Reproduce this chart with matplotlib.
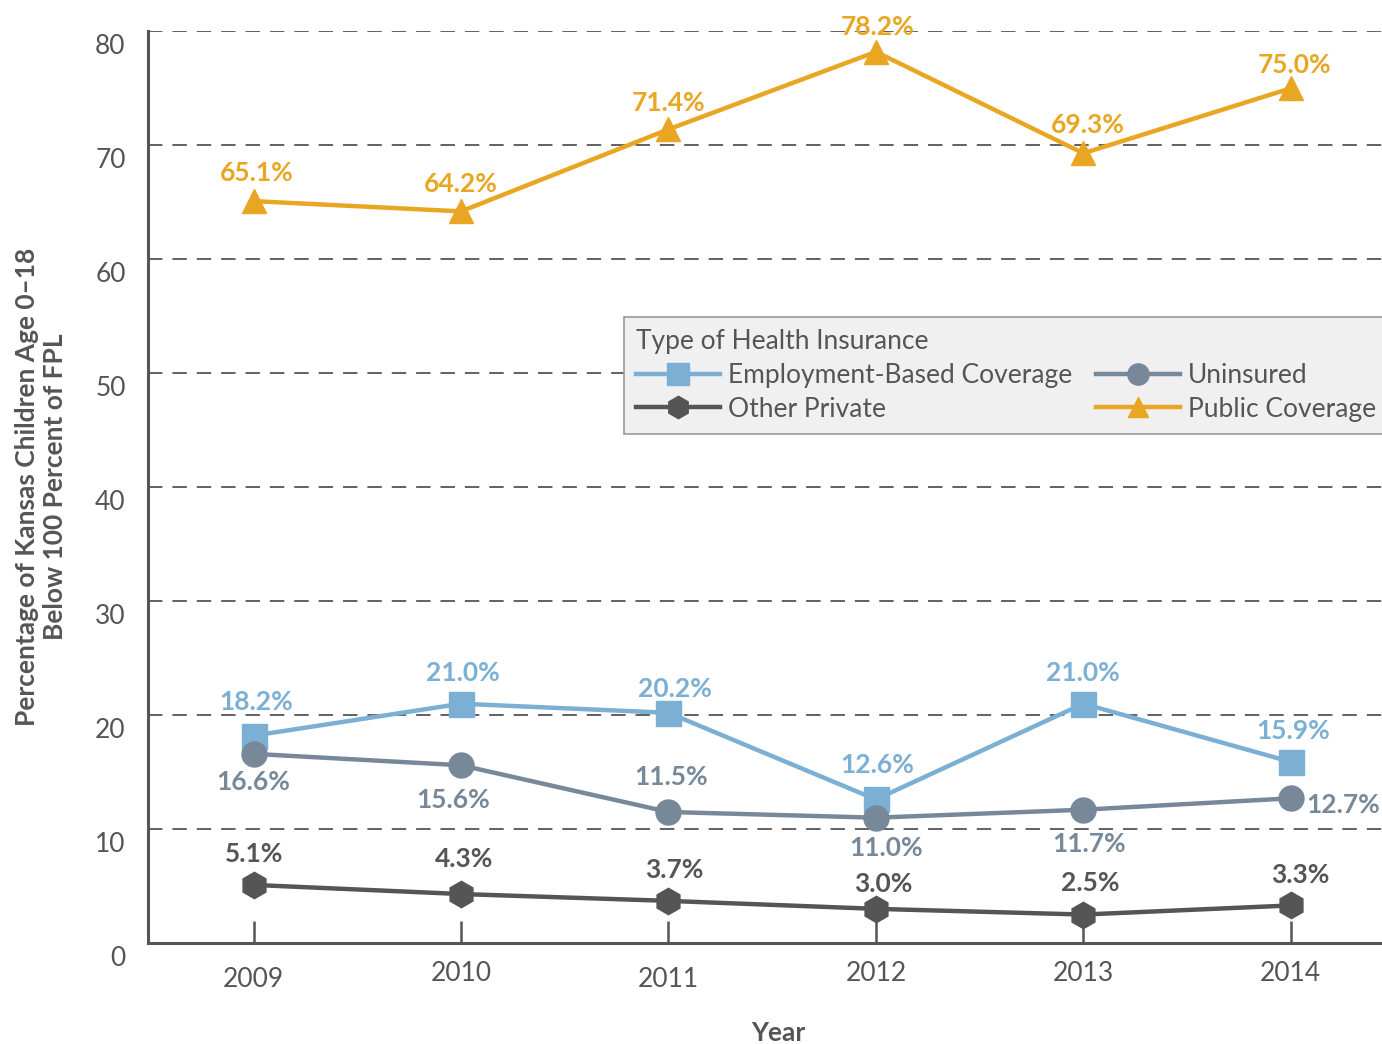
#!/usr/bin/env python3
"""
Kansas children below 100% FPL by type of health insurance, 2009-2014
"""

import matplotlib
matplotlib.use('Agg')
import matplotlib.pyplot as plt
import matplotlib.transforms as mtransforms

plt.rcParams['font.family'] = ['Lato', 'DejaVu Sans']

# Data
years = [2009, 2010, 2011, 2012, 2013, 2014]
public = [65.1, 64.2, 71.4, 78.2, 69.3, 75.0]
employment = [18.2, 21.0, 20.2, 12.6, 21.0, 15.9]
uninsured = [16.6, 15.6, 11.5, 11.0, 11.7, 12.7]
other_private = [5.1, 4.3, 3.7, 3.0, 2.5, 3.3]
y_ticks = [0, 10, 20, 30, 40, 50, 60, 70, 80]

# Colors
c_public = '#E8A623'
c_emp = '#7BAFD4'
c_unins = '#778899'
c_other = '#555555'
c_text = '#555555'

fig = plt.figure(figsize=(13.82, 10.44), dpi=100)
ax = fig.add_axes([0.107, 0.0967, 0.893, 0.8733])

lw = 3.2
ax.plot(years, employment, color=c_emp, lw=lw, marker='s', markersize=18,
        label='Employment-Based Coverage', zorder=4)
ax.plot(years, other_private, color=c_other, lw=lw, marker='h', markersize=19,
        label='Other Private', zorder=4)
ax.plot(years, uninsured, color=c_unins, lw=lw, marker='o', markersize=18,
        label='Uninsured', zorder=4)
ax.plot(years, public, color=c_public, lw=lw, marker='^', markersize=17,
        label='Public Coverage', zorder=4)

# Data labels (offsets in points)
def label_series(vals, color, offsets, ha='center'):
    for i, (x, v, (dx, dy)) in enumerate(zip(years, vals, offsets)):
        h = ha[i] if isinstance(ha, list) else ha
        ax.annotate(f'{v:.1f}%', (x, v), xytext=(dx, dy), textcoords='offset points',
                    ha=h, va='center', color=color, fontsize=19, fontweight='bold',
                    zorder=6)

label_series(public, c_public, [(2, 20), (0, 20), (0, 19), (1, 18), (3, 20), (3, 17)])
label_series(employment, c_emp, [(2, 24), (1, 22), (5, 17), (1, 25), (0, 22), (2, 22)])
label_series(uninsured, c_unins, [(0, -20), (-6, -25), (2, 25), (7, -22), (4, -25), (11, -5)],
             ha=['center', 'center', 'center', 'center', 'center', 'left'])
label_series(other_private, c_other, [(0, 22), (2, 25), (4, 22), (5, 18), (5, 23), (7, 22)])

# Axes styling
ax.set_xlim(2008.49, 2014.44)
ax.set_ylim(0, 80)
ax.set_yticks(y_ticks)
ax.set_xticks(years)
ax.yaxis.grid(True, linestyle=(0, (8, 5.5)), color=c_text, lw=1.3)
ax.set_axisbelow(True)

for s in ['top', 'right']:
    ax.spines[s].set_visible(False)
for s in ['left', 'bottom']:
    ax.spines[s].set_color(c_text)
    ax.spines[s].set_linewidth(2.2)

ax.tick_params(axis='y', length=0, labelsize=19, labelcolor=c_text, pad=16)
ax.tick_params(axis='x', direction='in', length=16, width=1.8, color=c_text,
               labelsize=19, labelcolor=c_text, pad=13)

# shift y tick labels slightly downward like the original
offset = mtransforms.ScaledTranslation(0, -9 / 72, fig.dpi_scale_trans)
for lbl in ax.get_yticklabels():
    lbl.set_transform(lbl.get_transform() + offset)
# staggered x labels
x_shift = [-4, 0, -4, 0, 0, 0]
for lbl, dy in zip(ax.get_xticklabels(), x_shift):
    lbl.set_transform(lbl.get_transform() +
                      mtransforms.ScaledTranslation(0, dy / 72, fig.dpi_scale_trans))

ax.set_xlabel('Year', fontsize=19, fontweight='bold', color=c_text, labelpad=22)
ax.xaxis.set_label_coords(0.511, -0.085)
ax.set_ylabel('Percentage of Kansas Children Age 0–18\nBelow 100 Percent of FPL',
              fontsize=19, fontweight='bold', color=c_text, labelpad=20,
              linespacing=1.2)

# Legend
leg = ax.legend(title='Type of Health Insurance', ncol=2, loc='upper left',
                bbox_to_anchor=(0.4515, 0.696), bbox_transform=fig.transFigure,
                borderaxespad=0, fontsize=19, title_fontsize=19, frameon=True,
                fancybox=False, facecolor='#f0f0f0', edgecolor='#999999',
                framealpha=1, handlelength=3.2, handletextpad=0.28,
                columnspacing=0.9, labelspacing=0.33, alignment='left',
                markerscale=0.85, borderpad=0.45)
leg.get_frame().set_linewidth(1.2)
for t in leg.get_texts():
    t.set_color(c_text)
leg.get_title().set_color(c_text)

plt.savefig('out.png', dpi=100)
